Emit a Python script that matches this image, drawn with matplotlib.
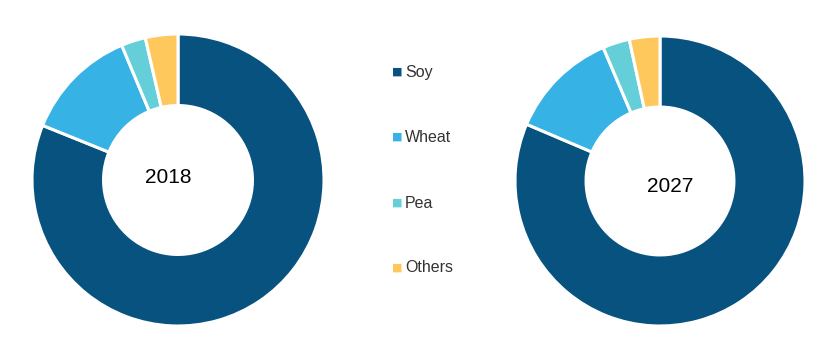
import matplotlib.pyplot as plt

# Market share by source (%)
sources = ['Soy', 'Wheat', 'Pea', 'Others']
share_2018 = [81.1, 12.6, 2.7, 3.6]
share_2027 = [81.4, 12.2, 3.0, 3.4]
colors = ['#07527E', '#36B2E4', '#64CFD9', '#FEC85D']

fig = plt.figure(figsize=(8.34, 3.53), dpi=100)
W, H = 834, 353

def donut(cx, cy, r, values, label, dx, dy):
    ax = fig.add_axes([(cx - r) / W, 1 - (cy + r) / H, 2 * r / W, 2 * r / H])
    ax.pie(values, colors=colors, startangle=90, counterclock=False,
           radius=1.0, wedgeprops=dict(width=0.49, edgecolor='white', linewidth=2.2))
    ax.set_xlim(-1, 1)
    ax.set_ylim(-1, 1)
    ax.set_aspect('equal')
    ax.axis('off')
    ax.text(dx, dy, label, ha='center', va='center', fontsize=15, family='Liberation Sans')

donut(178, 180, 146, share_2018, '2018', -0.07, 0.02)
donut(660, 181, 145, share_2027, '2027', 0.07, -0.04)

# legend in the middle
ys = [72, 137, 203, 268]
for name, c, y in zip(sources, colors, ys):
    fig.text(392 / W, 1 - y / H, '\u25A0', color=c, fontsize=8, va='center', ha='left')
    fig.text(405 / W, 1 - y / H, name, color='#333333', fontsize=11.5, va='center', ha='left',
             family='Liberation Sans')

fig.savefig('out.png', dpi=100)
